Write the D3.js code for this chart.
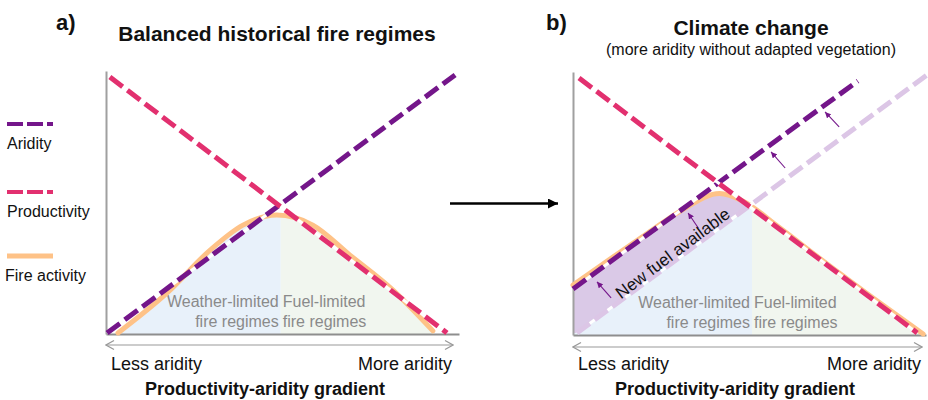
<!DOCTYPE html>
<html>
<head>
<meta charset="utf-8">
<script src="https://cdn.jsdelivr.net/npm/d3@7"></script>
<style>
  html, body { margin: 0; padding: 0; background: #fff; }
  text { font-family: "Liberation Sans", Arial, Helvetica, sans-serif; }
</style>
</head>
<body>
<script>
/* ---- data (0–100 on both conceptual axes) ---- */
const aridityA      = [[0.3, 0.4], [98.9, 98.5]];
const productivityA = [[1.1, 97.7], [96.6, 0.4]];
const fireA = [[3.4, 0.4], [17.3, 15.6], [29.5, 31.9], [38.8, 41.4], [48.4, 45.2],
               [58.6, 41.4], [69.1, 30.0], [81.3, 16.7], [92.6, 1.2]];

const aridityOldB   = [[1.1, 0.8], [100.3, 98.9]];
const aridityNewB   = [[0, 17.5], [80.7, 96.6]];
const productivityB = [[1.7, 97.7], [97.5, 0.8]];
const fireB = [[0, 19.0], [8.5, 27.0], [21, 38.6], [31, 47.6], [41.5, 53.8], [48.2, 50.9],
               [57.8, 41.5], [72, 27.0], [86.1, 13.0], [99.2, 0.4]];

/* arrows from the old to the new aridity line: [x1, y1, x2, y2] */
const shiftArrows = [[75.4, 79.1, 71.4, 84.8], [60.1, 63.5, 56.1, 69.6],
                     [35.5, 40.7, 32.6, 46.4], [10.8, 14.1, 6.8, 20.2]];

const dividerA = 49.5, dividerB = 50.7;
const regimeLeft  = ['Weather-limited', 'fire regimes'];
const regimeRight = ['Fuel-limited', 'fire regimes'];
const gradientEnds = ['Less aridity', 'More aridity'];
const gradientLabel = 'Productivity-aridity gradient';

const legendItems = [
  { label: 'Aridity',       key: 'aridity' },
  { label: 'Productivity',  key: 'productivity' },
  { label: 'Fire activity', key: 'fire' }
];

/* ---- style ---- */
const C = {
  aridity: '#74168a', productivity: '#e2306f', fire: '#fec287',
  aridityOld: '#dcc6e6', newFuel: '#dac9e7',
  weather: '#e8f1fa', fuel: '#f1f6ef', axis: '#8e8e8e', region: '#8a8a8a'
};

const W = 928, H = 400;
const svg = d3.select('body').append('svg').attr('width', W).attr('height', H);
const defs = svg.append('defs');

defs.append('marker').attr('id', 'headBlack')
    .attr('viewBox', '0 -5 10 10').attr('refX', 10).attr('refY', 0)
    .attr('markerUnits', 'userSpaceOnUse').attr('markerWidth', 11).attr('markerHeight', 10)
    .attr('orient', 'auto')
  .append('path').attr('d', 'M0,-5L10,0L0,5Z').attr('fill', '#000');

defs.append('marker').attr('id', 'headSmall')
    .attr('viewBox', '0 -5 10 10').attr('refX', 10).attr('refY', 0)
    .attr('markerUnits', 'userSpaceOnUse').attr('markerWidth', 6).attr('markerHeight', 6)
    .attr('orient', 'auto')
  .append('path').attr('d', 'M0,-5L10,0L0,5Z').attr('fill', C.aridity);

defs.append('marker').attr('id', 'headOpen')
    .attr('viewBox', '-1 -6 12 12').attr('refX', 10).attr('refY', 0)
    .attr('markerUnits', 'userSpaceOnUse').attr('markerWidth', 12).attr('markerHeight', 12)
    .attr('orient', 'auto-start-reverse')
  .append('path').attr('d', 'M2,-4.5L10,0L2,4.5').attr('fill', 'none')
    .attr('stroke', '#999').attr('stroke-width', 1.2);

/* ---- legend ---- */
const legendY = [124, 192, 256];
const lg = svg.append('g');
legendItems.forEach((d, i) => {
  const y = legendY[i];
  lg.append('line').attr('x1', 7).attr('x2', 53).attr('y1', y).attr('y2', y)
    .attr('stroke', C[d.key]).attr('stroke-width', d.key === 'fire' ? 5 : 4)
    .attr('stroke-dasharray', d.key === 'fire' ? null : '16,4');
  lg.append('text').attr('x', d.key === 'fire' ? 5 : 7).attr('y', y + 25)
    .attr('font-size', 16).attr('fill', '#111').text(d.label);
});

/* ---- main arrow between panels ---- */
svg.append('line').attr('x1', 450).attr('x2', 558).attr('y1', 203.5).attr('y2', 203.5)
  .attr('stroke', '#000').attr('stroke-width', 2.4).attr('marker-end', 'url(#headBlack)');

/* ---- panel drawing ---- */
function drawPanel(cfg) {
  const x = d3.scaleLinear().domain([0, 100]).range([cfg.x0, cfg.x1]);
  const y = d3.scaleLinear().domain([0, 100]).range([cfg.y0, cfg.y1]);
  const g = svg.append('g');
  const id = cfg.id;

  const area = d3.area().x(d => x(d[0])).y0(y(0)).y1(d => y(d[1])).curve(d3.curveMonotoneX);
  const curve = d3.line().x(d => x(d[0])).y(d => y(d[1])).curve(d3.curveMonotoneX);
  const straight = d3.line().x(d => x(d[0])).y(d => y(d[1]));

  defs.append('clipPath').attr('id', id + 'L')
    .append('rect').attr('x', 0).attr('y', 0).attr('width', x(cfg.divider)).attr('height', H);
  defs.append('clipPath').attr('id', id + 'R')
    .append('rect').attr('x', x(cfg.divider)).attr('y', 0).attr('width', W).attr('height', H);
  defs.append('clipPath').attr('id', id + 'F')
    .append('path').attr('d', area(cfg.fire));

  g.append('path').attr('d', area(cfg.fire)).attr('fill', C.weather)
    .attr('clip-path', `url(#${id}L)`);
  g.append('path').attr('d', area(cfg.fire)).attr('fill', C.fuel)
    .attr('clip-path', `url(#${id}R)`);

  if (cfg.old) {
    const o = cfg.old;
    const poly = [[0, o[0][1]], o[0], o[1], [o[1][0], 100], [0, 100]];
    g.append('path').attr('d', straight(poly) + 'Z').attr('fill', C.newFuel)
      .attr('clip-path', `url(#${id}F)`);
  }

  /* axes */
  const xa = g.append('g').attr('transform', `translate(0,${cfg.y0})`)
    .call(d3.axisBottom(x).tickValues([]).tickSizeOuter(0));
  const ya = g.append('g').attr('transform', `translate(${cfg.x0},0)`)
    .call(d3.axisLeft(y).tickValues([]).tickSizeOuter(0));
  xa.select('.domain').attr('stroke', C.axis).attr('stroke-width', 2);
  ya.select('.domain').attr('stroke', '#a0a0a0').attr('stroke-width', 2);

  /* region labels */
  const xd = x(cfg.divider);
  [0, 1].forEach(i => {
    const by = cfg.y0 - 27 + i * 20;
    g.append('text').attr('x', xd - 2).attr('y', by).attr('text-anchor', 'end')
      .attr('font-size', 16).attr('fill', C.region).text(regimeLeft[i]);
    g.append('text').attr('x', xd + 2).attr('y', by).attr('text-anchor', 'start')
      .attr('font-size', 16).attr('fill', C.region).text(regimeRight[i]);
  });

  /* fire activity */
  g.append('path').attr('d', curve(cfg.fire)).attr('fill', 'none')
    .attr('stroke', C.fire).attr('stroke-width', 5).attr('stroke-linecap', 'round');

  /* dashed lines with white gaps */
  const dashed = (pts, col) => {
    g.append('path').attr('d', straight(pts)).attr('fill', 'none')
      .attr('stroke', '#fff').attr('stroke-width', 3);
    g.append('path').attr('d', straight(pts)).attr('fill', 'none')
      .attr('stroke', col).attr('stroke-width', 5).attr('stroke-dasharray', '16,6');
  };
  if (cfg.old) dashed(cfg.old, C.aridityOld);
  dashed(cfg.aridity, C.aridity);
  dashed(cfg.productivity, C.productivity);

  if (cfg.arrows) {
    cfg.arrows.forEach(a => {
      g.append('line').attr('x1', x(a[0])).attr('y1', y(a[1]))
        .attr('x2', x(a[2])).attr('y2', y(a[3]))
        .attr('stroke', C.aridity).attr('stroke-width', 1.1)
        .attr('marker-end', 'url(#headSmall)');
    });
    g.append('text')
      .attr('transform', `translate(${x(28.3)},${y(31.0)}) rotate(-37)`)
      .attr('text-anchor', 'middle').attr('dominant-baseline', 'central')
      .attr('font-size', 17).attr('fill', '#111').text('New fuel available');
  }

  /* gradient arrow + labels */
  g.append('line').attr('x1', cfg.x0).attr('x2', cfg.arrowEnd)
    .attr('y1', cfg.arrowY).attr('y2', cfg.arrowY)
    .attr('stroke', '#999').attr('stroke-width', 1.1)
    .attr('marker-start', 'url(#headOpen)').attr('marker-end', 'url(#headOpen)');
  g.append('text').attr('x', cfg.x0 + 5).attr('y', 370).attr('font-size', 18)
    .attr('fill', '#111').text(gradientEnds[0]);
  g.append('text').attr('x', cfg.arrowEnd - 1).attr('y', 370).attr('font-size', 18)
    .attr('text-anchor', 'end').attr('fill', '#111').text(gradientEnds[1]);
  g.append('text').attr('x', cfg.gradX).attr('y', 395).attr('font-size', 18)
    .attr('font-weight', 'bold').attr('text-anchor', 'middle').attr('fill', '#111')
    .text(gradientLabel);

  /* titles */
  g.append('text').attr('x', cfg.tagX).attr('y', 30).attr('font-size', 22)
    .attr('font-weight', 'bold').attr('fill', '#111').text(cfg.tag);
  g.append('text').attr('x', cfg.titleX).attr('y', cfg.titleY).attr('font-size', 21)
    .attr('font-weight', 'bold').attr('text-anchor', 'middle').attr('fill', '#111')
    .text(cfg.title);
  if (cfg.subtitle)
    g.append('text').attr('x', cfg.titleX).attr('y', 55).attr('font-size', 16)
      .attr('text-anchor', 'middle').attr('fill', '#111').text(cfg.subtitle);
}

drawPanel({
  id: 'pa', x0: 106, x1: 459, y0: 334, y1: 71, divider: dividerA,
  fire: fireA, aridity: aridityA, productivity: productivityA,
  arrowY: 345, arrowEnd: 453, gradX: 265,
  tag: 'a)', tagX: 56, title: 'Balanced historical fire regimes', titleX: 277, titleY: 41
});

drawPanel({
  id: 'pb', x0: 573, x1: 926, y0: 335, y1: 72, divider: dividerB,
  fire: fireB, aridity: aridityNewB, productivity: productivityB, old: aridityOldB,
  arrows: shiftArrows,
  arrowY: 347, arrowEnd: 922, gradX: 735,
  tag: 'b)', tagX: 546, title: 'Climate change', titleX: 751, titleY: 35,
  subtitle: '(more aridity without adapted vegetation)'
});
</script>
</body>
</html>
